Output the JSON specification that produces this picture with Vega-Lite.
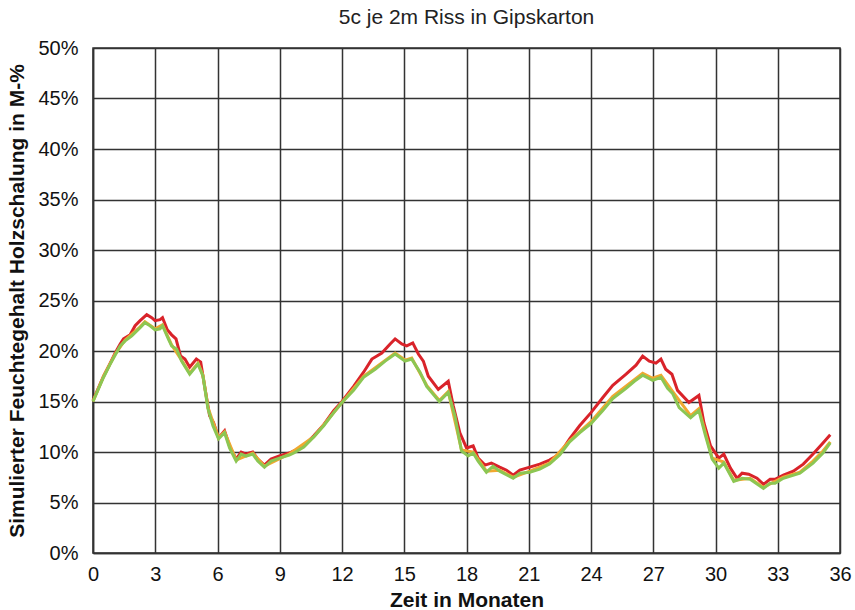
{
  "$schema": "https://vega.github.io/schema/vega-lite/v6.json",
  "width": 747,
  "height": 505,
  "autosize": {"type": "none"},
  "padding": {"left": 93, "top": 48, "right": 15, "bottom": 57},
  "background": "white",
  "title": {"text": "5c je 2m Riss in Gipskarton", "font": "Liberation Sans", "fontSize": 21, "fontWeight": "normal", "color": "#222", "offset": 10},
  "config": {
    "view": {"stroke": "#333", "strokeWidth": 1.5},
    "axis": {"labelFont": "Liberation Sans", "titleFont": "Liberation Sans", "labelColor": "#111", "titleColor": "#111", "gridColor": "#333", "gridWidth": 1.5, "gridOpacity": 1, "domainColor": "#333", "domainWidth": 1.5, "ticks": false}
  },
  "datasets": {
    "rot": [
      {"t":0,"v":15.1},{"t":0.19,"v":16.0},{"t":0.51,"v":17.5},{"t":0.83,"v":18.8},{"t":1.07,"v":19.8},{"t":1.31,"v":20.7},{"t":1.47,"v":21.2},{"t":1.79,"v":21.6},{"t":2.03,"v":22.5},{"t":2.27,"v":23.0},{"t":2.59,"v":23.6},{"t":2.83,"v":23.3},{"t":2.99,"v":23.0},{"t":3.23,"v":23.1},{"t":3.35,"v":23.3},{"t":3.58,"v":22.1},{"t":3.79,"v":21.6},{"t":4.0,"v":21.2},{"t":4.22,"v":19.5},{"t":4.43,"v":19.2},{"t":4.66,"v":18.4},{"t":4.98,"v":19.2},{"t":5.19,"v":18.9},{"t":5.38,"v":16.5},{"t":5.62,"v":13.6},{"t":5.81,"v":12.9},{"t":6.05,"v":11.4},{"t":6.34,"v":12.1},{"t":6.58,"v":10.6},{"t":6.9,"v":9.3},{"t":7.14,"v":10.0},{"t":7.38,"v":9.8},{"t":7.7,"v":10.0},{"t":7.94,"v":9.3},{"t":8.26,"v":8.7},{"t":8.58,"v":9.3},{"t":8.98,"v":9.6},{"t":9.46,"v":9.9},{"t":9.68,"v":10.1},{"t":10.16,"v":10.6},{"t":10.64,"v":11.6},{"t":11.12,"v":12.7},{"t":11.6,"v":14.1},{"t":12.0,"v":15.0},{"t":12.56,"v":16.5},{"t":13.04,"v":17.9},{"t":13.44,"v":19.2},{"t":13.92,"v":19.8},{"t":14.32,"v":20.7},{"t":14.56,"v":21.2},{"t":14.88,"v":20.7},{"t":15.12,"v":20.5},{"t":15.41,"v":20.8},{"t":15.68,"v":19.7},{"t":15.92,"v":19.0},{"t":16.16,"v":17.5},{"t":16.64,"v":16.2},{"t":17.12,"v":17.0},{"t":17.36,"v":14.6},{"t":17.68,"v":11.9},{"t":18.0,"v":10.4},{"t":18.32,"v":10.6},{"t":18.56,"v":9.4},{"t":18.89,"v":8.7},{"t":19.2,"v":8.9},{"t":19.6,"v":8.5},{"t":19.93,"v":8.2},{"t":20.25,"v":7.7},{"t":20.57,"v":8.2},{"t":21.05,"v":8.5},{"t":21.53,"v":8.8},{"t":22.0,"v":9.2},{"t":22.49,"v":9.8},{"t":22.97,"v":11.3},{"t":23.45,"v":12.6},{"t":24.0,"v":13.9},{"t":24.57,"v":15.4},{"t":25.05,"v":16.6},{"t":25.69,"v":17.7},{"t":26.17,"v":18.6},{"t":26.49,"v":19.5},{"t":26.81,"v":19.0},{"t":27.13,"v":18.8},{"t":27.37,"v":19.2},{"t":27.6,"v":18.2},{"t":27.9,"v":17.7},{"t":28.17,"v":16.1},{"t":28.72,"v":14.9},{"t":29.2,"v":15.6},{"t":29.44,"v":12.9},{"t":29.76,"v":10.6},{"t":30.16,"v":9.4},{"t":30.4,"v":9.8},{"t":30.72,"v":8.4},{"t":31.04,"v":7.4},{"t":31.28,"v":7.9},{"t":31.6,"v":7.8},{"t":32.0,"v":7.4},{"t":32.31,"v":6.8},{"t":32.63,"v":7.3},{"t":32.87,"v":7.3},{"t":33.27,"v":7.7},{"t":33.75,"v":8.1},{"t":34.23,"v":8.8},{"t":34.7,"v":9.8},{"t":35.18,"v":10.9},{"t":35.53,"v":11.7}
    ],
    "orange": [
      {"t":0,"v":15.0},{"t":0.51,"v":17.5},{"t":1.07,"v":19.7},{"t":1.55,"v":21.1},{"t":2.27,"v":22.4},{"t":2.5,"v":22.9},{"t":2.99,"v":22.2},{"t":3.35,"v":22.6},{"t":3.79,"v":20.6},{"t":4.27,"v":19.1},{"t":4.66,"v":17.8},{"t":5.06,"v":18.8},{"t":5.3,"v":17.6},{"t":5.54,"v":14.4},{"t":6.05,"v":11.4},{"t":6.34,"v":12.0},{"t":6.9,"v":9.2},{"t":7.7,"v":9.9},{"t":8.26,"v":8.6},{"t":9.46,"v":9.8},{"t":10.64,"v":11.5},{"t":12.0,"v":14.9},{"t":13.04,"v":17.5},{"t":14.56,"v":19.8},{"t":15.04,"v":19.1},{"t":15.36,"v":19.3},{"t":16.08,"v":16.6},{"t":16.69,"v":15.1},{"t":17.12,"v":16.0},{"t":17.76,"v":10.2},{"t":18.32,"v":10.0},{"t":18.96,"v":8.1},{"t":19.6,"v":8.2},{"t":20.25,"v":7.5},{"t":21.05,"v":8.1},{"t":22.0,"v":8.9},{"t":22.97,"v":11.1},{"t":24.0,"v":13.0},{"t":25.05,"v":15.5},{"t":26.49,"v":17.8},{"t":26.97,"v":17.3},{"t":27.37,"v":17.6},{"t":27.93,"v":16.0},{"t":28.8,"v":13.6},{"t":29.2,"v":14.3},{"t":29.84,"v":9.4},{"t":30.4,"v":9.0},{"t":30.88,"v":7.2},{"t":31.67,"v":7.4},{"t":32.31,"v":6.5},{"t":33.27,"v":7.5},{"t":34.07,"v":8.0},{"t":34.7,"v":9.1},{"t":35.18,"v":10.1},{"t":35.53,"v":11.0}
    ],
    "gruen": [
      {"t":0,"v":15.0},{"t":0.19,"v":15.9},{"t":0.51,"v":17.4},{"t":0.83,"v":18.7},{"t":1.07,"v":19.6},{"t":1.31,"v":20.5},{"t":1.55,"v":21.0},{"t":1.87,"v":21.5},{"t":2.27,"v":22.3},{"t":2.5,"v":22.8},{"t":2.75,"v":22.5},{"t":2.99,"v":22.1},{"t":3.23,"v":22.2},{"t":3.35,"v":22.5},{"t":3.63,"v":21.2},{"t":3.79,"v":20.5},{"t":4.03,"v":20.2},{"t":4.27,"v":19.0},{"t":4.66,"v":17.7},{"t":5.06,"v":18.7},{"t":5.3,"v":17.5},{"t":5.54,"v":14.3},{"t":5.78,"v":12.6},{"t":6.05,"v":11.3},{"t":6.34,"v":11.9},{"t":6.58,"v":10.4},{"t":6.9,"v":9.1},{"t":7.14,"v":9.8},{"t":7.38,"v":9.6},{"t":7.7,"v":9.8},{"t":7.94,"v":9.1},{"t":8.26,"v":8.5},{"t":8.58,"v":9.1},{"t":8.98,"v":9.4},{"t":9.46,"v":9.7},{"t":9.68,"v":9.9},{"t":10.16,"v":10.5},{"t":10.64,"v":11.5},{"t":11.12,"v":12.6},{"t":11.6,"v":13.9},{"t":12.0,"v":14.9},{"t":12.56,"v":16.1},{"t":13.04,"v":17.4},{"t":13.6,"v":18.2},{"t":14.08,"v":19.0},{"t":14.56,"v":19.7},{"t":15.04,"v":19.0},{"t":15.36,"v":19.2},{"t":15.76,"v":17.9},{"t":16.08,"v":16.5},{"t":16.69,"v":15.0},{"t":17.12,"v":15.9},{"t":17.44,"v":13.6},{"t":17.76,"v":10.1},{"t":18.08,"v":9.6},{"t":18.32,"v":9.9},{"t":18.56,"v":9.1},{"t":18.96,"v":8.0},{"t":19.28,"v":8.6},{"t":19.6,"v":8.1},{"t":20.25,"v":7.4},{"t":20.57,"v":7.9},{"t":21.05,"v":8.0},{"t":21.53,"v":8.3},{"t":22.0,"v":8.8},{"t":22.49,"v":9.7},{"t":22.97,"v":11.0},{"t":23.45,"v":11.9},{"t":24.0,"v":12.8},{"t":24.57,"v":14.1},{"t":25.05,"v":15.3},{"t":25.69,"v":16.3},{"t":26.09,"v":17.0},{"t":26.49,"v":17.6},{"t":26.97,"v":17.1},{"t":27.37,"v":17.4},{"t":27.69,"v":16.3},{"t":27.93,"v":15.8},{"t":28.25,"v":14.4},{"t":28.8,"v":13.4},{"t":29.2,"v":14.1},{"t":29.52,"v":11.6},{"t":29.84,"v":9.3},{"t":30.16,"v":8.4},{"t":30.4,"v":8.9},{"t":30.88,"v":7.1},{"t":31.28,"v":7.4},{"t":31.67,"v":7.3},{"t":32.31,"v":6.4},{"t":32.63,"v":6.9},{"t":32.87,"v":6.9},{"t":33.27,"v":7.4},{"t":34.07,"v":7.9},{"t":34.7,"v":8.9},{"t":35.18,"v":9.9},{"t":35.53,"v":10.9}
    ]
  },
  "encoding": {
    "x": {"field": "t", "type": "quantitative", "scale": {"domain": [0, 36], "nice": false, "zero": false},
      "axis": {"values": [0,3,6,9,12,15,18,21,24,27,30,33,36], "title": "Zeit in Monaten", "labelFontSize": 20, "labelPadding": 11, "titleFontSize": 21, "titleFontWeight": "bold", "titlePadding": 5, "labelFlush": false}},
    "y": {"field": "v", "type": "quantitative", "scale": {"domain": [0, 50], "nice": false},
      "axis": {"values": [0,5,10,15,20,25,30,35,40,45,50], "labelExpr": "datum.value + '%'", "title": "Simulierter Feuchtegehalt Holzschalung in M-%", "labelFontSize": 20, "labelPadding": 15, "titleFontSize": 21, "titleFontWeight": "bold", "titlePadding": 10}}
  },
  "layer": [
    {"data": {"name": "rot"}, "mark": {"type": "line", "color": "#d9232a", "strokeWidth": 3}},
    {"data": {"name": "orange"}, "mark": {"type": "line", "color": "#f0a830", "strokeWidth": 3}},
    {"data": {"name": "gruen"}, "mark": {"type": "line", "color": "#8cc653", "strokeWidth": 3}}
  ]
}
